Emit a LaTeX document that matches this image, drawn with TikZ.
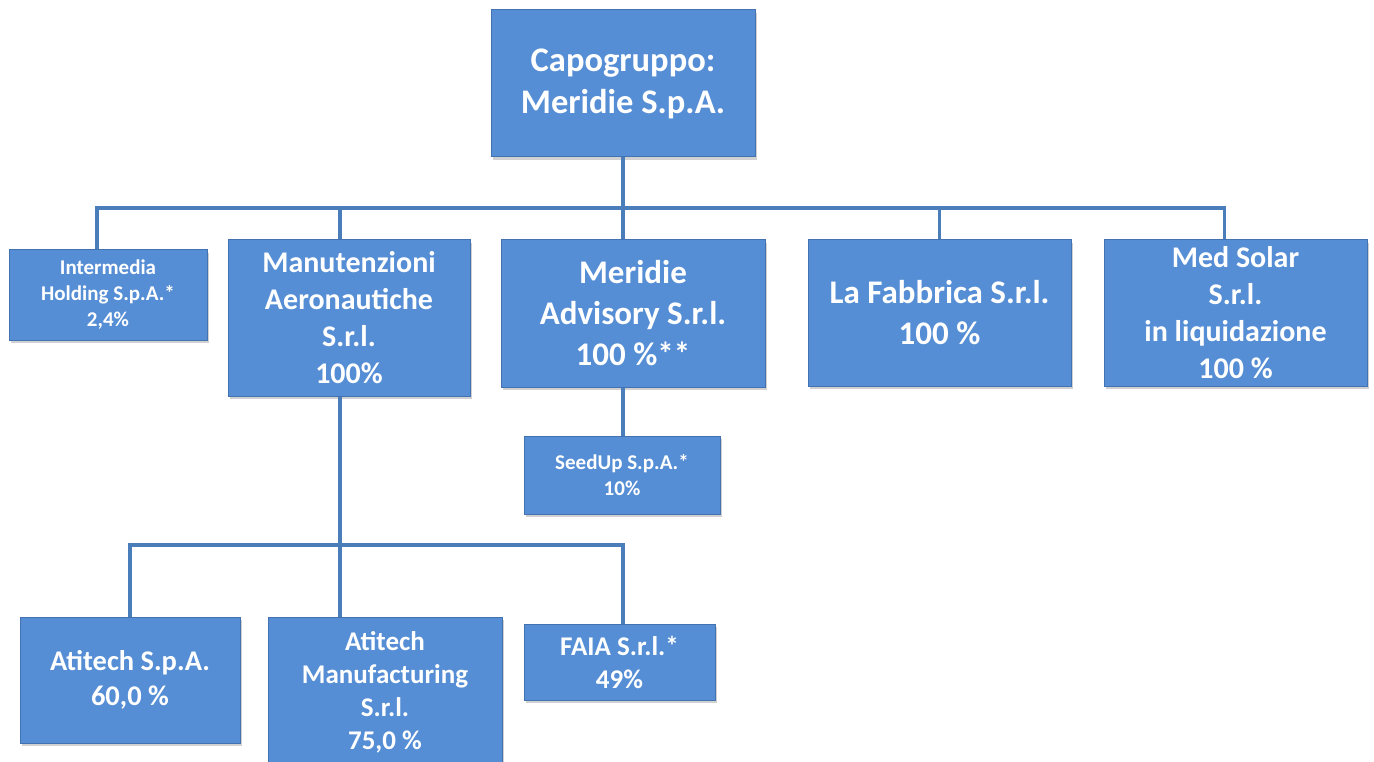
\documentclass[tikz,border=0pt]{standalone}
\usepackage{fontspec}
\setmainfont{Carlito}
\usepackage{tikz}
\usetikzlibrary{positioning, calc, shadows}
\definecolor{mdFill}{RGB}{85,142,213}
\definecolor{mdBorder}{RGB}{68,114,176}
\definecolor{mdLine}{RGB}{74,126,187}

\tikzset{
    unit/.style={draw=mdBorder, line width=1pt, fill=mdFill, text=white, align=center, inner sep=0pt,
        drop shadow={shadow xshift=1.5pt, shadow yshift=-3pt, opacity=0.3, fill=black!60}},
    link/.style={draw=mdLine, line width=3.5pt},
    txtXL/.style={font=\fontsize{34.5}{42}\selectfont\bfseries},
    txtL/.style={font=\fontsize{33}{41}\selectfont\bfseries},
    txtM/.style={font=\fontsize{30}{37}\selectfont\bfseries},
    txtA/.style={font=\fontsize{28.5}{35}\selectfont\bfseries},
    txtS/.style={font=\fontsize{27}{33}\selectfont\bfseries},
    txtXS/.style={font=\fontsize{21}{26}\selectfont\bfseries}
}

\begin{document}
\begin{tikzpicture}[x=1pt, y=-1pt]
    \useasboundingbox (0,0) rectangle (1374,762);

    % level 0
    \node[unit, txtXL, minimum width=264pt, minimum height=147pt] (capo) at (623,83.5) {Capogruppo:\\Meridie S.p.A.};

    % level 1
    \node[unit, txtXS, minimum width=198pt, minimum height=90pt] (inter) at (108,295) {Intermedia\\Holding S.p.A.*\\2,4\%};
    \node[unit, txtM, minimum width=242pt, minimum height=156pt] (manut) at (349,318) {Manutenzioni\\Aeronautiche\\S.r.l.\\100\%};
    \node[unit, txtL, minimum width=264pt, minimum height=147pt] (advis) at (633,313.5) {Meridie\\Advisory S.r.l.\\100 \%**};
    \node[unit, txtL, minimum width=263pt, minimum height=146pt] (fabb) at (939.5,313) {La Fabbrica S.r.l.\\100 \%};
    \node[unit, txtM, minimum width=263pt, minimum height=146pt] (solar) at (1235.5,313) {Med Solar\\S.r.l.\\in liquidazione\\100 \%};

    % level 2
    \node[unit, txtXS, minimum width=196pt, minimum height=78pt] (seed) at (622,475) {SeedUp S.p.A.*\\10\%};
    \node[unit, txtA, minimum width=220pt, minimum height=126pt] (atitech) at (130,680) {Atitech S.p.A.\\60,0 \%};
    \node[unit, txtS, minimum width=234pt, minimum height=151pt] (manuf) at (385,692.5) {Atitech\\Manufacturing\\S.r.l.\\75,0 \%};
    \node[unit, txtS, minimum width=191pt, minimum height=76pt] (faia) at (619.5,662) {FAIA S.r.l.*\\49\%};

    % connectors
    \coordinate (busA) at (0,208);
    \coordinate (busB) at (0,545);
    \draw[link] (capo.south) -- (capo.south |- busA);
    \draw[link] ([xshift=-11pt]inter.north) |- ([xshift=-11pt]solar.north |- busA) -- ([xshift=-11pt]solar.north);
    \draw[link] ([xshift=-9pt]manut.north) -- ([xshift=-9pt]manut.north |- busA);
    \draw[link] ([xshift=-10pt]advis.north) -- ([xshift=-10pt]advis.north |- busA);
    \draw[link] (fabb.north) -- (fabb.north |- busA);
    \draw[link] ([xshift=-10pt]advis.south) -- ([xshift=-10pt]advis.south |- seed.north);
    \draw[link] ([xshift=-9pt]manut.south) -- ([xshift=-9pt]manut.south |- manuf.north);
    \draw[link] (atitech.north) |- ([xshift=3.5pt]faia.north |- busB) -- ([xshift=3.5pt]faia.north);
\end{tikzpicture}
\end{document}
